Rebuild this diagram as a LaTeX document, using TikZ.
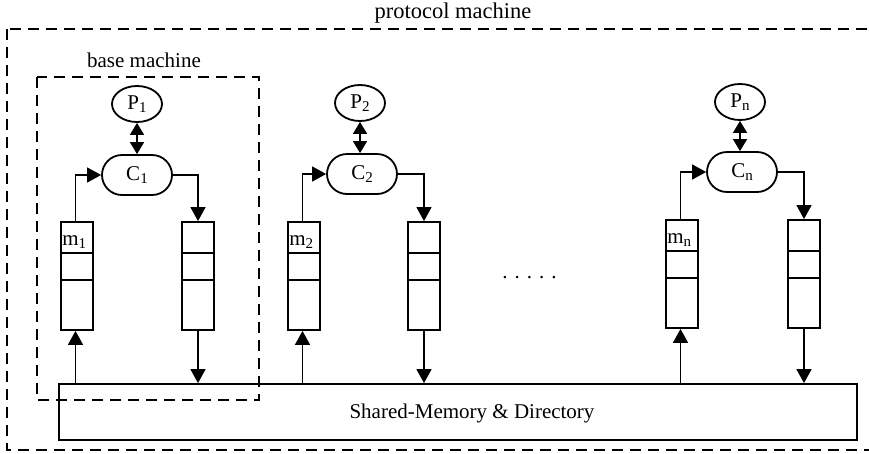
\documentclass[tikz,border=0pt]{standalone}
\usepackage{fontspec}
\setmainfont{Liberation Serif}
\usetikzlibrary{shapes.geometric,shapes.misc,arrows.meta,calc}
\newcommand\sbs[1]{\raisebox{-0.35ex}{\fontsize{15}{15}\selectfont #1}}
\begin{document}
\begin{tikzpicture}[x=1pt,y=-1pt,
  every node/.style={font=\fontsize{21}{25}\selectfont},
  pnode/.style={ellipse,draw,line width=1.8pt,minimum width=50pt,minimum height=36pt,inner sep=0pt},
  cnode/.style={rounded rectangle,draw,line width=1.8pt,minimum width=70pt,minimum height=40pt,inner sep=0pt},
  queue/.style={rectangle,draw,line width=1.8pt,minimum width=32pt,minimum height=108pt,inner sep=0pt},
  memory/.style={rectangle,draw,line width=1.8pt,minimum width=798pt,minimum height=56pt,inner sep=0pt},
  arr/.style={line width=1.5pt,-{Triangle[length=14pt,width=15pt]}},
  dblarr/.style={line width=1.5pt,{Triangle[length=12pt,width=14pt]}-{Triangle[length=12pt,width=14pt]}},
  machine/.style={dash pattern=on 11pt off 7pt,line width=1.8pt},
  slot/.style={line width=1.8pt},
  qlabel/.style={anchor=base west,inner sep=0pt}]
\useasboundingbox (0,0) rectangle (869,453);

% enclosing boxes
\draw[machine] (7,29) rectangle (880,450);
\draw[machine] (37,77) rectangle (259,400);
\node[font=\fontsize{22.5}{26}\selectfont] (protolbl) at (453,13) {protocol machine};
\node (baselbl) at (144,60) {base machine};

% shared memory
\node[memory] (mem) at (458,412) {};
\node (memlbl) at (472,413) {Shared-Memory \& Directory};

% processors and controllers
\node[pnode] (P1) at (137,104) {P\sbs{1}};
\node[pnode] (P2) at (360,103) {P\sbs{2}};
\node[pnode] (Pn) at (740,102) {P\sbs{n}};
\node[cnode] (C1) at (137,175) {C\sbs{1}};
\node[cnode] (C2) at (362,174) {C\sbs{2}};
\node[cnode] (Cn) at (742,172) {C\sbs{n}};

% message queues
\node[queue] (ql1) at (77,276) {};
\node[queue] (qr1) at (198,276) {};
\node[queue] (ql2) at (304,276) {};
\node[queue] (qr2) at (424,276) {};
\node[queue] (qln) at (682,274) {};
\node[queue] (qrn) at (804,274) {};

\foreach \q in {ql1,qr1,ql2,qr2,qln,qrn}{
  \draw[slot] ($(\q.north west)+(0,32)$) -- ($(\q.north east)+(0,32)$);
  \draw[slot] ($(\q.north west)+(0,59)$) -- ($(\q.north east)+(0,59)$);
}
\node[qlabel] (m1) at ($(ql1.north west)+(2,24)$) {m\sbs{1}};
\node[qlabel] (m2) at ($(ql2.north west)+(2,24)$) {m\sbs{2}};
\node[qlabel] (mn) at ($(qln.north west)+(2,24)$) {m\sbs{n}};

\node (dots) at (529.5,278) {. . . . .};

% connectors
\foreach \i in {1,2,n}{
  \draw[dblarr] (P\i.south) -- (P\i.south |- C\i.north);
  \draw[arr] ([xshift=-1.5pt]ql\i.north) |- (C\i.west);
  \draw[arr] (C\i.east) -| (qr\i.north);
  \draw[arr] ([xshift=-1.5pt]ql\i.south |- mem.north) -- ([xshift=-1.5pt]ql\i.south);
  \draw[arr] (qr\i.south) -- (qr\i.south |- mem.north);
}
\end{tikzpicture}
\end{document}
